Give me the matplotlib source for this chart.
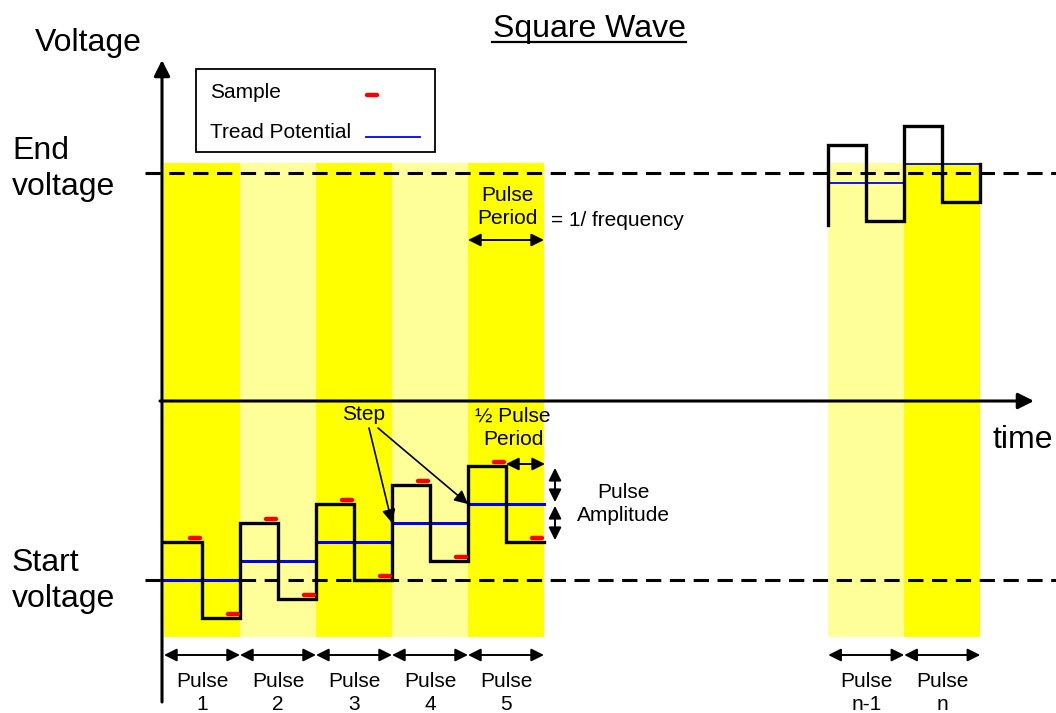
import numpy as np
import matplotlib.pyplot as plt
from matplotlib.patches import Rectangle

plt.rcParams['font.family'] = ['Liberation Sans', 'DejaVu Sans']

# Data (time in pulse periods, voltage in steps above the start voltage)
pulse_labels = ['Pulse\n1', 'Pulse\n2', 'Pulse\n3', 'Pulse\n4', 'Pulse\n5', 'Pulse\nn-1', 'Pulse\nn']
pulse_start = [0, 1, 2, 3, 4, 8.74, 9.74]
tread_level = [0, 1, 2, 3, 4, 20.9, 21.9]
band_bright = [True, False, True, False, True, False, True]
has_samples = [True, True, True, True, True, False, False]
amplitude = 2.0
start_voltage = 0.0
end_voltage = 21.4
band_bottom, band_top = -3.0, 21.95

BRIGHT = '#FFFF00'
LIGHT = '#FFFF99'


# pixel -> diagram units (for the annotation layout only)
def px(x):
    return (x - 164) / 76.0


def py(y):
    return (580 - y) / 19.0


fig = plt.figure(figsize=(10.56, 7.13), dpi=100)
ax = fig.add_axes([0, 0, 1, 1])
ax.set_xlim(px(0), px(1056))
ax.set_ylim(py(713), py(0))
ax.axis('off')

# coloured pulse bands
for t0, bright in zip(pulse_start, band_bright):
    ax.add_patch(Rectangle((t0, band_bottom), 1, band_top - band_bottom,
                           facecolor=BRIGHT if bright else LIGHT, edgecolor='none', zorder=1))

# start / end voltage dashed lines
for v in (start_voltage, end_voltage):
    ax.plot([px(145), px(1056)], [v, v], color='k', lw=2.2, ls=(0, (5, 2.8)), zorder=3)

# tread potential
for i, (t0, lev) in enumerate(zip(pulse_start, tread_level)):
    ax.plot([t0, t0 + 1], [lev, lev], color='#0000FF', lw=2.2 if i < 5 else 1.3, zorder=4)


def square(idx, lead=None, tail=None):
    xs, ys = [], []
    for i in idx:
        t0, lev = pulse_start[i], tread_level[i]
        xs += [t0, t0 + 0.5, t0 + 0.5, t0 + 1]
        ys += [lev + amplitude, lev + amplitude, lev - amplitude, lev - amplitude]
    if lead is not None:
        xs = [xs[0]] + xs
        ys = [lead] + ys
    if tail is not None:
        xs = xs + [xs[-1]]
        ys = ys + [tail]
    return xs, ys


xs, ys = square(range(5))
ax.plot(xs, ys, color='k', lw=2.4, zorder=5, solid_joinstyle='miter')
xs, ys = square([5, 6], lead=tread_level[5] - amplitude - 0.2, tail=tread_level[6])
ax.plot(xs, ys, color='k', lw=2.4, zorder=5, solid_joinstyle='miter')

# samples at the end of each half period
for t0, lev, s in zip(pulse_start, tread_level, has_samples):
    if not s:
        continue
    for te, v in ((t0 + 0.5, lev + amplitude), (t0 + 1, lev - amplitude)):
        ax.plot([te - 0.16, te - 0.02], [v + 0.2, v + 0.2], color='#FF0000',
                lw=3.2, solid_capstyle='round', zorder=6)

# axes arrows
arr = dict(arrowstyle='-|>', color='k', lw=2.2, mutation_scale=24, shrinkA=0, shrinkB=0)
ax.annotate('', xy=(px(162), py(60)), xytext=(px(162), py(702)), arrowprops=arr, zorder=7)
ax.annotate('', xy=(px(1034), py(401)), xytext=(px(160), py(401)), arrowprops=arr, zorder=7)

# texts
big = 23
small = 15
ax.text(px(589), py(29), 'Square Wave', fontsize=big, ha='center', va='center')
ax.plot([px(492), px(686)], [py(42), py(42)], color='k', lw=1.6)
ax.text(px(35), py(43), 'Voltage', fontsize=big, ha='left', va='center')
ax.text(px(12), py(169), 'End\nvoltage', fontsize=big, ha='left', va='center', linespacing=1.3)
ax.text(px(12), py(581), 'Start\nvoltage', fontsize=big, ha='left', va='center', linespacing=1.3)
ax.text(px(993), py(440), 'time', fontsize=big, ha='left', va='center')

# legend box
ax.add_patch(Rectangle((px(196), py(152)), px(435) - px(196), py(69) - py(152),
                       facecolor='white', edgecolor='k', lw=1.3, zorder=8))
ax.text(px(210), py(92), 'Sample', fontsize=small, ha='left', va='center', zorder=9)
ax.plot([px(367), px(377)], [py(95), py(95)], color='#FF0000', lw=3.2, solid_capstyle='round', zorder=9)
ax.text(px(210), py(132), 'Tread Potential', fontsize=small, ha='left', va='center', zorder=9)
ax.plot([px(366), px(420)], [py(137), py(137)], color='#0000FF', lw=1.3, zorder=9)

# pulse period
dbl = dict(arrowstyle='<|-|>', color='k', lw=1.4, mutation_scale=19, shrinkA=0, shrinkB=0)
ax.text(px(507), py(207), 'Pulse\nPeriod', fontsize=small, ha='center', va='center', linespacing=1.25)
ax.annotate('', xy=(pulse_start[4], py(240)), xytext=(pulse_start[4] + 1, py(240)), arrowprops=dbl)
ax.text(px(551), py(221), '= 1/ frequency', fontsize=small, ha='left', va='center')

# step
ax.text(px(364), py(415), 'Step', fontsize=small, ha='center', va='center')
one = dict(arrowstyle='-|>', color='k', lw=1.2, mutation_scale=20, shrinkA=0, shrinkB=0)
ax.annotate('', xy=(pulse_start[3], tread_level[3]), xytext=(px(369), py(428)), arrowprops=one)
ax.annotate('', xy=(pulse_start[4], tread_level[4]), xytext=(px(378), py(428)), arrowprops=one)

# half pulse period
ax.text(px(513), py(428), '½ Pulse\nPeriod', fontsize=small, ha='center', va='center', linespacing=1.25)
ax.annotate('', xy=(pulse_start[4] + 0.5, py(464)), xytext=(px(545), py(464)), arrowprops=dbl)

# pulse amplitude
lev5 = tread_level[4]
ax.annotate('', xy=(px(555), lev5 + amplitude - 0.1), xytext=(px(555), lev5 + 0.1), arrowprops=dbl)
ax.annotate('', xy=(px(555), lev5 - 0.1), xytext=(px(555), lev5 - amplitude + 0.1), arrowprops=dbl)
ax.text(px(623), py(504), 'Pulse\nAmplitude', fontsize=small, ha='center', va='center', linespacing=1.25)

# pulse widths along the bottom
for t0, lab in zip(pulse_start, pulse_labels):
    ax.annotate('', xy=(t0, py(655)), xytext=(t0 + 1, py(655)), arrowprops=dbl)
    ax.text(t0 + 0.5, py(693), lab, fontsize=small, ha='center', va='center', linespacing=1.25)

fig.savefig('out.png', dpi=100)
